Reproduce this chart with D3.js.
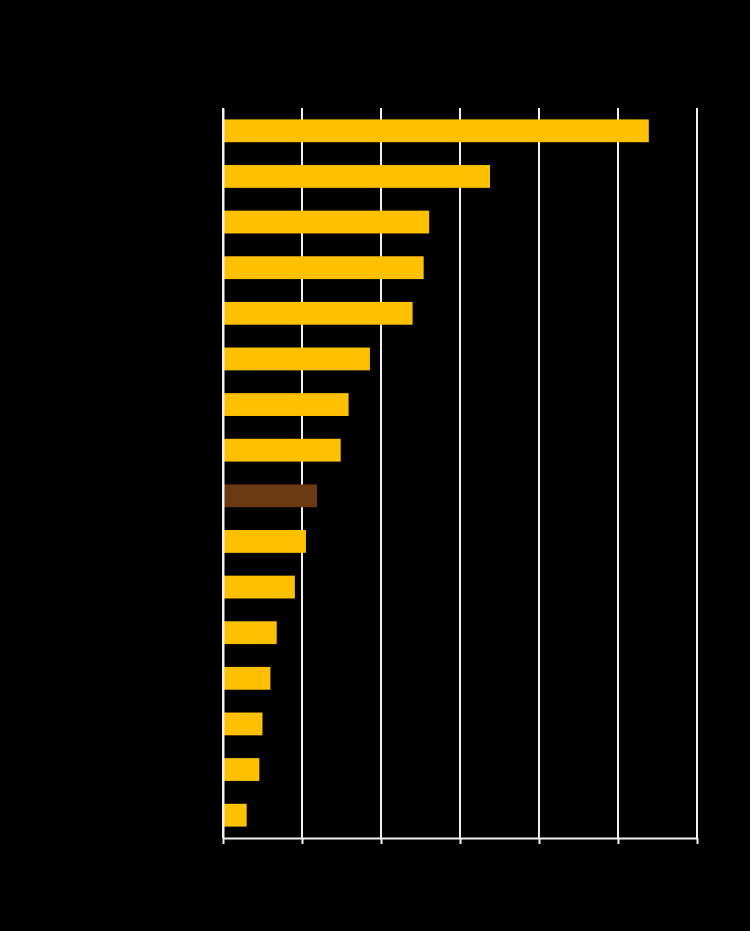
<!DOCTYPE html>
<html>
<head>
<meta charset="utf-8">
<script src="https://cdn.jsdelivr.net/npm/d3@7"></script>
<style>
  html, body { margin: 0; padding: 0; background: #000; }
  svg { display: block; }
</style>
</head>
<body>
<div id="chart"></div>
<script>
// Data (text is drawn black on black as in the reference)
const categories = ["Category 1","Category 2","Category 3","Category 4","Category 5","Category 6",
  "Category 7","Category 8","Category 9","Category 10","Category 11","Category 12",
  "Category 13","Category 14","Category 15","Category 16"];
const values = [5.39, 3.38, 2.61, 2.54, 2.40, 1.86, 1.59, 1.49, 1.19, 1.05, 0.91, 0.68, 0.60, 0.50, 0.46, 0.30];
const highlighted = ["Category 9"];
const xTicks = [0, 1, 2, 3, 4, 5, 6];
const titleText = "Chart title";

const W = 750, H = 931;
const margin = { top: 108, right: 53, bottom: 93, left: 223 };
const innerW = W - margin.left - margin.right;
const innerH = H - margin.top - margin.bottom;

const svg = d3.select("#chart").append("svg")
  .attr("width", W).attr("height", H)
  .style("background", "#000");

svg.append("text")
  .attr("x", margin.left).attr("y", 50)
  .attr("fill", "#000")
  .attr("font-family", "Liberation Sans, Arial, sans-serif")
  .attr("font-size", 18)
  .text(titleText);

const g = svg.append("g").attr("transform", `translate(${margin.left},${margin.top})`);

const x = d3.scaleLinear().domain([0, 6]).range([0, innerW]);
const y = d3.scaleBand().domain(categories).range([0, innerH])
  .paddingInner(0.5).paddingOuter(0.25);

// Gridlines
g.append("g")
  .selectAll("line")
  .data(xTicks)
  .join("line")
  .attr("x1", d => x(d)).attr("x2", d => x(d))
  .attr("y1", 0).attr("y2", innerH)
  .attr("stroke", "#f0f0f0").attr("stroke-width", 2);

// Bars
g.append("g")
  .selectAll("rect")
  .data(categories.map((c, i) => ({ c, v: values[i] })))
  .join("rect")
  .attr("x", x(0))
  .attr("y", d => y(d.c))
  .attr("width", d => x(d.v) - x(0))
  .attr("height", y.bandwidth())
  .attr("fill", d => highlighted.includes(d.c) ? "#6B3A12" : "#FFC000");

// X axis
const xAxis = g.append("g")
  .attr("transform", `translate(0,${innerH})`)
  .call(d3.axisBottom(x).tickValues(xTicks).tickSize(6).tickSizeOuter(0));
xAxis.select(".domain").attr("stroke", "#f0f0f0").attr("stroke-width", 2);
xAxis.selectAll(".tick line").attr("stroke", "#f0f0f0").attr("stroke-width", 2);
xAxis.selectAll(".tick text")
  .attr("fill", "#000")
  .attr("font-family", "Liberation Sans, Arial, sans-serif")
  .attr("font-size", 13);

// Y axis
const yAxis = g.append("g")
  .call(d3.axisLeft(y).tickSize(0));
yAxis.select(".domain").attr("stroke", "#f0f0f0").attr("stroke-width", 2);
yAxis.selectAll(".tick text")
  .attr("fill", "#000")
  .attr("dx", -8)
  .attr("font-family", "Liberation Sans, Arial, sans-serif")
  .attr("font-size", 13);
</script>
</body>
</html>
